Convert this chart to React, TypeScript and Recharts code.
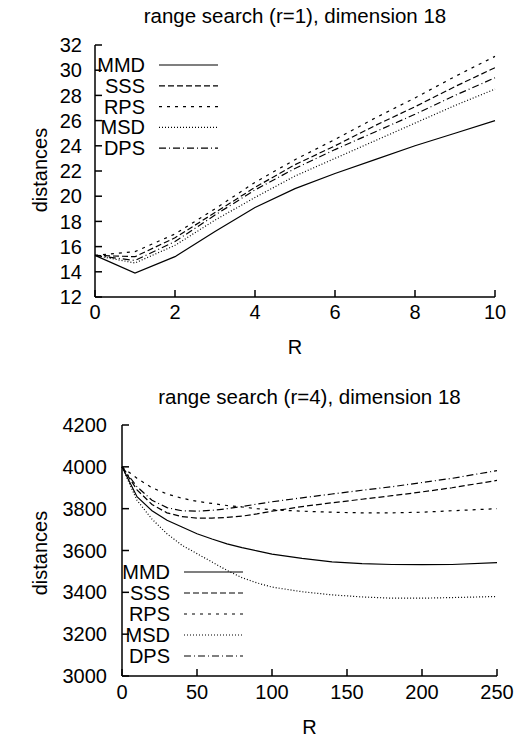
import { LineChart, Line, XAxis, YAxis, Legend } from "recharts"

const FONT = "'Liberation Sans', Arial, Helvetica, sans-serif"

// range search (r=1)
const r1R = [0, 1, 2, 3, 4, 5, 6, 7, 8, 9, 10]
const r1MMD = [15.3, 13.9, 15.2, 17.2, 19.1, 20.6, 21.8, 22.9, 24.0, 25.0, 26.0]
const r1SSS = [15.3, 15.2, 16.7, 18.7, 20.7, 22.5, 24.0, 25.6, 27.1, 28.7, 30.2]
const r1RPS = [15.3, 15.6, 17.0, 19.0, 21.1, 22.9, 24.5, 26.2, 27.8, 29.5, 31.1]
const r1MSD = [15.3, 14.7, 16.1, 18.1, 19.9, 21.6, 23.0, 24.4, 25.8, 27.2, 28.5]
const r1DPS = [15.3, 14.9, 16.4, 18.5, 20.5, 22.2, 23.7, 25.1, 26.5, 28.0, 29.4]
const r1XTicks = [0, 2, 4, 6, 8, 10]
const r1YTicks = [12, 14, 16, 18, 20, 22, 24, 26, 28, 30, 32]

// range search (r=4)
const r4R = [0, 10, 20, 30, 40, 50, 60, 70, 80, 90, 100, 120, 140, 160, 180, 200, 220, 250]
const r4MMD = [4000, 3857, 3790, 3745, 3712, 3680, 3655, 3632, 3614, 3598, 3583, 3562, 3546, 3537, 3533, 3532, 3533, 3542]
const r4SSS = [4000, 3890, 3820, 3780, 3762, 3755, 3755, 3758, 3764, 3775, 3788, 3810, 3828, 3845, 3862, 3880, 3900, 3935]
const r4RPS = [4000, 3945, 3900, 3870, 3850, 3835, 3825, 3815, 3808, 3800, 3795, 3788, 3783, 3780, 3780, 3783, 3790, 3800]
const r4MSD = [4000, 3840, 3750, 3680, 3625, 3585, 3545, 3505, 3470, 3445, 3425, 3403, 3388, 3378, 3372, 3372, 3375, 3380]
const r4DPS = [4000, 3905, 3840, 3805, 3790, 3788, 3792, 3800, 3810, 3822, 3833, 3852, 3870, 3888, 3905, 3925, 3945, 3982]
const r4XTicks = [0, 50, 100, 150, 200, 250]
const r4YTicks = [3000, 3200, 3400, 3600, 3800, 4000, 4200]

const names = ["MMD", "SSS", "RPS", "MSD", "DPS"]
const dashes: Record<string, string | undefined> = {
  MMD: undefined,
  SSS: "6 3",
  RPS: "3 5",
  MSD: "1 2",
  DPS: "7 3 1 3",
}

function toRows(xs: number[], cols: number[][]) {
  return xs.map((R, i) => {
    const row: Record<string, number> = { R }
    names.forEach((n, j) => (row[n] = cols[j][i]))
    return row
  })
}

const rows1 = toRows(r1R, [r1MMD, r1SSS, r1RPS, r1MSD, r1DPS])
const rows4 = toRows(r4R, [r4MMD, r4SSS, r4RPS, r4MSD, r4DPS])

interface LegendBox {
  textRight: number
  x1: number
  x2: number
  y0: number
  dy: number
}

function KeyBox({ box }: { box: LegendBox }) {
  return (
    <svg width={532} height={369} style={{ position: "absolute", left: 0, top: 0, pointerEvents: "none" }}>
      {names.map((n, i) => {
        const y = box.y0 + i * box.dy
        return (
          <g key={n}>
            <text x={box.textRight} y={y + 7} textAnchor="end" fontSize={20} fontFamily={FONT} fill="#000">
              {n}
            </text>
            <line x1={box.x1} x2={box.x2} y1={y} y2={y} stroke="#000" strokeWidth={1.2} strokeDasharray={dashes[n]} />
          </g>
        )
      })}
    </svg>
  )
}

interface PanelProps {
  title: string
  rows: Record<string, number>[]
  xDomain: [number, number]
  yDomain: [number, number]
  xTicks: number[]
  yTicks: number[]
  left: number
  right: number
  top: number
  bottom: number
  xTickMargin: number
  yTickMargin: number
  titleY: number
  xLabelY: number
  yLabelY: number
  box: LegendBox
}

function Panel(p: PanelProps) {
  const tickStyle = { fontSize: 20, fill: "#000", fontFamily: FONT }
  const axisStroke = { stroke: "#000", strokeWidth: 1.5 }
  const plotW = 532 - p.left - p.right
  return (
    <LineChart
      width={532}
      height={369}
      data={p.rows}
      margin={{ top: p.top, right: p.right, left: 0, bottom: 0 }}
    >
      <XAxis
        dataKey="R"
        type="number"
        domain={p.xDomain}
        ticks={p.xTicks}
        interval={0}
        height={p.bottom}
        tickSize={-7}
        tickMargin={p.xTickMargin}
        tick={tickStyle}
        axisLine={axisStroke}
        tickLine={axisStroke}
      />
      <XAxis
        xAxisId="top"
        orientation="top"
        type="number"
        domain={p.xDomain}
        ticks={p.xTicks}
        height={0}
        tickSize={-7}
        tick={false}
        axisLine={axisStroke}
        tickLine={axisStroke}
      />
      <YAxis
        type="number"
        domain={p.yDomain}
        ticks={p.yTicks}
        interval={0}
        width={p.left}
        tickSize={-7}
        tickMargin={p.yTickMargin}
        tick={tickStyle}
        axisLine={axisStroke}
        tickLine={axisStroke}
      />
      <YAxis
        yAxisId="right"
        orientation="right"
        type="number"
        domain={p.yDomain}
        ticks={p.yTicks}
        width={0}
        tickSize={-7}
        tick={false}
        axisLine={axisStroke}
        tickLine={axisStroke}
      />
      {names.map(n => (
        <Line
          key={n}
          dataKey={n}
          type="linear"
          stroke="#000"
          strokeWidth={1.2}
          strokeDasharray={dashes[n]}
          dot={false}
          activeDot={false}
          isAnimationActive={false}
        />
      ))}
      <Legend
        layout="vertical"
        align="center"
        verticalAlign="middle"
        wrapperStyle={{ left: 0, top: 0, width: 532, height: 369 }}
        content={() => <KeyBox box={p.box} />}
      />
      <text x={p.left + plotW / 2} y={p.titleY} textAnchor="middle" fontSize={20.5} fontFamily={FONT} fill="#000">
        {p.title}
      </text>
      <text x={p.left + plotW / 2} y={p.xLabelY} textAnchor="middle" fontSize={20} fontFamily={FONT} fill="#000">
        R
      </text>
      <text
        x={47}
        y={p.yLabelY}
        textAnchor="middle"
        fontSize={20}
        fontFamily={FONT}
        fill="#000"
        transform={`rotate(-90 47 ${p.yLabelY})`}
      >
        distances
      </text>
    </LineChart>
  )
}

export default function App() {
  return (
    <div style={{ position: "absolute", left: 0, top: 0, width: 532, height: 738, background: "#fff" }}>
      <Panel
        title="range search (r=1), dimension 18"
        rows={rows1}
        xDomain={[0, 10]}
        yDomain={[12, 32]}
        xTicks={r1XTicks}
        yTicks={r1YTicks}
        left={95}
        right={37}
        top={45}
        bottom={72}
        xTickMargin={15}
        yTickMargin={20}
        titleY={23}
        xLabelY={354}
        yLabelY={170}
        box={{ textRight: 145, x1: 159, x2: 218, y0: 65, dy: 20.8 }}
      />
      <Panel
        title="range search (r=4), dimension 18"
        rows={rows4}
        xDomain={[0, 250]}
        yDomain={[3000, 4200]}
        xTicks={r4XTicks}
        yTicks={r4YTicks}
        left={122}
        right={35}
        top={56}
        bottom={62}
        xTickMargin={16}
        yTickMargin={22}
        titleY={35}
        xLabelY={365}
        yLabelY={184}
        box={{ textRight: 170, x1: 184, x2: 243, y0: 203, dy: 21 }}
      />
    </div>
  )
}
